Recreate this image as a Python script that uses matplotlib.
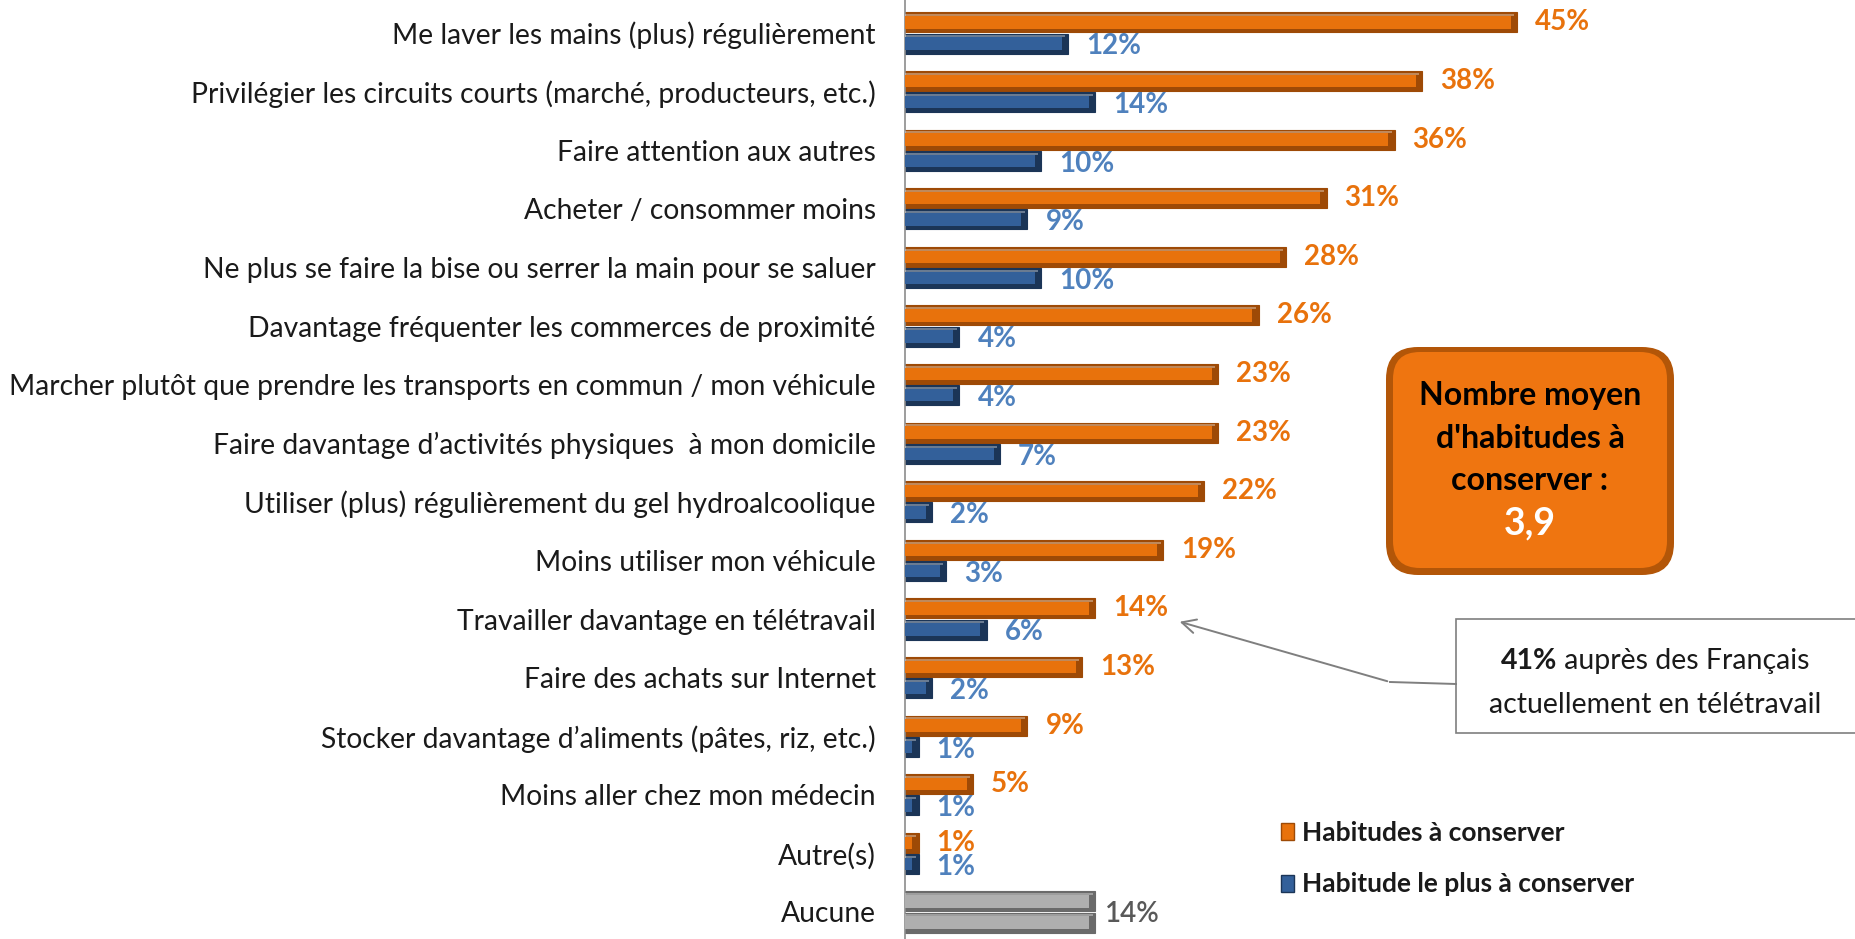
import numpy as np
import matplotlib
matplotlib.use("Agg")
import matplotlib.pyplot as plt
from matplotlib.patches import FancyBboxPatch, Rectangle

plt.rcParams["font.family"] = ["Lato", "DejaVu Sans"]

categories = [
    "Me laver les mains (plus) régulièrement",
    "Privilégier les circuits courts (marché, producteurs, etc.)",
    "Faire attention aux autres",
    "Acheter / consommer moins",
    "Ne plus se faire la bise ou serrer la main pour se saluer",
    "Davantage fréquenter les commerces de proximité",
    "Marcher plutôt que prendre les transports en commun / mon véhicule",
    "Faire davantage d\u2019activités physiques  à mon domicile",
    "Utiliser (plus) régulièrement du gel hydroalcoolique",
    "Moins utiliser mon véhicule",
    "Travailler davantage en télétravail",
    "Faire des achats sur Internet",
    "Stocker davantage d\u2019aliments (pâtes, riz, etc.)",
    "Moins aller chez mon médecin",
    "Autre(s)",
    "Aucune",
]
conserver = [45, 38, 36, 31, 28, 26, 23, 23, 22, 19, 14, 13, 9, 5, 1]
plus_conserver = [12, 14, 10, 9, 10, 4, 4, 7, 2, 3, 6, 2, 1, 1, 1]
aucune = 14
moyenne = "3,9"

ORANGE, ORANGE_DK, ORANGE_TXT = "#E8720C", "#9E4A06", "#E8720C"
BLUE, BLUE_DK, BLUE_TXT = "#33609A", "#1B3557", "#4F81BD"
GREY, GREY_DK, GREY_TXT = "#AFAFAF", "#6A6A6A", "#595959"
TXT = "#1A1A1A"

W, H = 1856, 939
fig = plt.figure(figsize=(W / 100, H / 100), dpi=100)
fig.patch.set_facecolor("white")

x0 = 905
ax = fig.add_axes([x0 / W, 0, 1 - x0 / W, 1])
px_per_pct = 13.6
ax.set_xlim(0, (W - x0) / px_per_pct)
ax.set_ylim((H - 33) / 58.6, -33 / 58.6)

n = len(conserver)
g = np.arange(n)
off, hgt = 0.18, 0.34


def bevel_bars(y, vals, face, dark):
    vals = np.array(vals, dtype=float)
    ax.barh(y, vals, height=hgt, color=dark, edgecolor=dark, linewidth=0.8, zorder=2)
    ax.barh(y, vals - 0.45, height=hgt * 0.62, color=face, zorder=3)
    ax.barh(y - hgt * 0.36, vals - 0.2, height=hgt * 0.1, color="white", alpha=0.35, zorder=4)


bevel_bars(g - off, conserver, ORANGE, ORANGE_DK)
bevel_bars(g + off, plus_conserver, BLUE, BLUE_DK)
ya = len(categories) - 1
bevel_bars(np.array([ya - off, ya + off]), [aucune, aucune], GREY, GREY_DK)

dx = 18 / px_per_pct
for i, (a, b) in enumerate(zip(conserver, plus_conserver)):
    ax.text(a + dx, i - off, f"{a}%", color=ORANGE_TXT, fontsize=20, fontweight="bold", va="center", ha="left")
    ax.text(b + dx, i + off + 0.05, f"{b}%", color=BLUE_TXT, fontsize=20, fontweight="bold", va="center", ha="left")
ax.text(aucune + 10 / px_per_pct, ya + 0.03, f"{aucune}%", color=GREY_TXT, fontsize=20, fontweight="semibold",
        va="center", ha="left")

ax.set_yticks(np.arange(len(categories)))
ax.set_yticklabels(categories, fontsize=20.3, color=TXT)
ax.tick_params(axis="y", length=0, pad=21)
ax.set_xticks([])
for s in ["top", "right", "bottom"]:
    ax.spines[s].set_visible(False)
ax.spines["left"].set_color("#8C8C8C")
ax.spines["left"].set_linewidth(1.2)

# legend
h1 = Rectangle((0, 0), 1, 1, facecolor=ORANGE, edgecolor=ORANGE_DK)
h2 = Rectangle((0, 0), 1, 1, facecolor=BLUE, edgecolor=BLUE_DK)
leg = ax.legend([h1, h2], ["Habitudes à conserver", "Habitude le plus à conserver"],
                loc="upper left", bbox_to_anchor=(1257 / W, 1 - 797 / H), bbox_transform=fig.transFigure,
                frameon=False, handlelength=0.5, handleheight=0.6, handletextpad=0.3,
                labelspacing=1.05, prop={"weight": "bold", "size": 19})
for t in leg.get_texts():
    t.set_color(TXT)

# overlay in pixel coordinates for the annotations
ov = fig.add_axes([0, 0, 1, 1], zorder=5)
ov.set_xlim(0, W)
ov.set_ylim(H, 0)
ov.axis("off")
ov.patch.set_alpha(0)

ov.add_patch(FancyBboxPatch((1386, 347), 288, 228, boxstyle="round,pad=0,rounding_size=32",
                            facecolor="#B35608", edgecolor="none"))
ov.add_patch(FancyBboxPatch((1393, 352), 274, 216, boxstyle="round,pad=0,rounding_size=27",
                            facecolor="#EF7510", edgecolor="none"))
for yy, line in zip([395, 438, 481], ["Nombre moyen", "d'habitudes à", "conserver :"]):
    ov.text(1530, yy, line, ha="center", va="center", fontsize=23, fontweight="bold", color="black")
ov.text(1530, 523, moyenne, ha="center", va="center", fontsize=27, fontweight="bold", color="white")

ov.add_patch(Rectangle((1456, 619), 420, 114, facecolor="white", edgecolor="#7F7F7F", linewidth=1.2))
r = fig.canvas.get_renderer()
tb = ov.text(0, 661, "41%", ha="left", va="center", fontsize=20.5, fontweight="bold", color=TXT)
tr = ov.text(0, 661, " auprès des Français", ha="left", va="center", fontsize=20.5, color=TXT)
wb = tb.get_window_extent(r).width
wr = tr.get_window_extent(r).width
xs = 1655 - (wb + wr) / 2
tb.set_x(xs)
tr.set_x(xs + wb)
ov.text(1655, 705, "actuellement en télétravail", ha="center", va="center", fontsize=20.5, color=TXT)

ov.plot([1456, 1390], [684, 682], color="#7F7F7F", lw=1.4)
ov.annotate("", xy=(1177, 621), xytext=(1390, 682),
            arrowprops=dict(arrowstyle="->,head_length=1.0,head_width=0.5", color="#7F7F7F", lw=1.4))

fig.savefig("out.png", dpi=100)
